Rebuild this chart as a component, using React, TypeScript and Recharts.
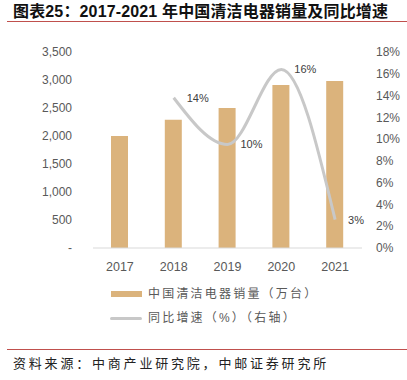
import { ComposedChart, Bar, Line, XAxis, YAxis, LabelList } from 'recharts';

const years = ['2017', '2018', '2019', '2020', '2021'];
const sales = [2000, 2290, 2500, 2910, 2980];
const growth: (number | null)[] = [null, 13.8, 9.5, 16.4, 2.6];
const leftTicks = [0, 500, 1000, 1500, 2000, 2500, 3000, 3500];
const rightTicks = [0, 2, 4, 6, 8, 10, 12, 14, 16, 18];

const data = years.map((year, i) => ({ year, sales: sales[i], growth: growth[i] }));

const font = '"Liberation Sans", "Noto Sans CJK SC", sans-serif';
const barColor = '#DBB37C';
const lineColor = '#C8C8C8';
const axisText = '#595959';

export default function App() {
  return (
    <div
      style={{
        position: 'absolute',
        left: 0,
        top: 0,
        width: 407,
        height: 380,
        background: '#fff',
        fontFamily: font,
        overflow: 'hidden',
      }}
    >
      <div
        style={{
          position: 'absolute',
          left: 13,
          top: 2,
          fontSize: 16,
          fontWeight: 'bold',
          letterSpacing: 0.15,
          color: '#111',
          whiteSpace: 'nowrap',
          lineHeight: '20px',
        }}
      >
        图表25：2017-2021 年中国清洁电器销量及同比增速
      </div>
      <div style={{ position: 'absolute', left: 7, right: 0, top: 21, height: 1, background: '#C0504D' }} />

      <div style={{ position: 'absolute', left: 0, top: 30 }}>
        <ComposedChart
          width={407}
          height={250}
          data={data}
          margin={{ top: 22, right: 5, bottom: 2, left: 33 }}
          barSize={17}
        >
          <XAxis
            dataKey="year"
            height={30}
            axisLine={{ stroke: '#D9D9D9' }}
            tickLine={false}
            tickMargin={8}
            tick={{ fill: axisText, fontSize: 12.5, fontFamily: font }}
          />
          <YAxis
            yAxisId="left"
            width={60}
            domain={[0, 3500]}
            ticks={leftTicks}
            axisLine={false}
            tickLine={false}
            tickMargin={15}
            tick={{ fill: axisText, fontSize: 12, fontFamily: font }}
            tickFormatter={(v: number) => (v === 0 ? '-' : v.toLocaleString('en-US'))}
          />
          <YAxis
            yAxisId="right"
            orientation="right"
            width={40}
            domain={[0, 18]}
            ticks={rightTicks}
            axisLine={false}
            tickLine={false}
            tickMargin={8}
            tick={{ fill: axisText, fontSize: 12, fontFamily: font, textAnchor: 'start' }}
            tickFormatter={(v: number) => `${v}%`}
          />
          <Bar yAxisId="left" dataKey="sales" fill={barColor} isAnimationActive={false} />
          <Line
            yAxisId="right"
            type="monotone"
            dataKey="growth"
            stroke={lineColor}
            strokeWidth={3}
            dot={false}
            activeDot={false}
            isAnimationActive={false}
          >
            <LabelList
              dataKey="growth"
              position="right"
              offset={13}
              fill="#404040"
              fontSize={11}
              fontFamily={font}
              formatter={(v: any) => (v == null ? '' : `${Math.round(v)}%`)}
            />
          </Line>
        </ComposedChart>
      </div>

      <div style={{ position: 'absolute', left: 111, top: 291, width: 31, height: 6, background: barColor }} />
      <div
        style={{
          position: 'absolute',
          left: 148,
          top: 286,
          fontSize: 12,
          lineHeight: '16px',
          letterSpacing: 2.2,
          color: axisText,
          whiteSpace: 'nowrap',
        }}
      >
        中国清洁电器销量（万台）
      </div>
      <div
        style={{ position: 'absolute', left: 110, top: 317, width: 32, height: 3, borderRadius: 2, background: lineColor }}
      />
      <div
        style={{
          position: 'absolute',
          left: 148,
          top: 310,
          fontSize: 12,
          lineHeight: '16px',
          letterSpacing: 2.2,
          color: axisText,
          whiteSpace: 'nowrap',
        }}
      >
        同比增速（%）（右轴）
      </div>

      <div style={{ position: 'absolute', left: 7, right: 0, top: 349, height: 1, background: '#C0504D' }} />
      <div
        style={{
          position: 'absolute',
          left: 13,
          top: 355,
          fontSize: 13,
          lineHeight: '18px',
          letterSpacing: 2.8,
          color: '#222',
          whiteSpace: 'nowrap',
        }}
      >
        资料来源：中商产业研究院，中邮证券研究所
      </div>
    </div>
  );
}
